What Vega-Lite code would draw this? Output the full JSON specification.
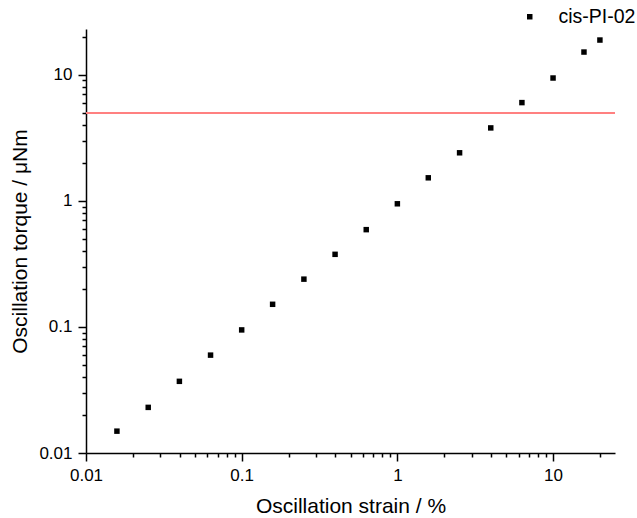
{
  "$schema": "https://vega.github.io/schema/vega-lite/v6.json",
  "width": 529,
  "height": 424,
  "autosize": {"type": "none"},
  "padding": {"left": 86, "top": 29, "right": 22, "bottom": 65},
  "background": "white",
  "config": {
    "view": {"stroke": null},
    "font": "Liberation Sans",
    "axis": {
      "domainColor": "black",
      "domainWidth": 1.5,
      "tickColor": "black",
      "tickWidth": 1.5,
      "labelColor": "black",
      "titleColor": "black",
      "labelFont": "Liberation Sans",
      "titleFont": "Liberation Sans",
      "labelFontSize": 17,
      "titleFontSize": 21,
      "titleFontWeight": "normal",
      "grid": false
    }
  },
  "data": {
    "values": [
      {"strain": 0.0158, "torque": 0.0149, "series": "cis-PI-02"},
      {"strain": 0.0251, "torque": 0.023, "series": "cis-PI-02"},
      {"strain": 0.0398, "torque": 0.037, "series": "cis-PI-02"},
      {"strain": 0.0631, "torque": 0.0597, "series": "cis-PI-02"},
      {"strain": 0.1, "torque": 0.0946, "series": "cis-PI-02"},
      {"strain": 0.158, "torque": 0.151, "series": "cis-PI-02"},
      {"strain": 0.251, "torque": 0.239, "series": "cis-PI-02"},
      {"strain": 0.398, "torque": 0.376, "series": "cis-PI-02"},
      {"strain": 0.631, "torque": 0.59, "series": "cis-PI-02"},
      {"strain": 1.0, "torque": 0.946, "series": "cis-PI-02"},
      {"strain": 1.58, "torque": 1.52, "series": "cis-PI-02"},
      {"strain": 2.51, "torque": 2.4, "series": "cis-PI-02"},
      {"strain": 3.98, "torque": 3.78, "series": "cis-PI-02"},
      {"strain": 6.31, "torque": 6.0, "series": "cis-PI-02"},
      {"strain": 10.0, "torque": 9.4, "series": "cis-PI-02"},
      {"strain": 15.8, "torque": 15.1, "series": "cis-PI-02"},
      {"strain": 20.0, "torque": 18.8, "series": "cis-PI-02"}
    ]
  },
  "layer": [
    {
      "mark": {"type": "rule", "color": "#FF8080", "strokeWidth": 1.2},
      "encoding": {"y": {"datum": 5, "type": "quantitative"}}
    },
    {
      "mark": {"type": "point", "shape": "square", "filled": true, "size": 30, "opacity": 1},
      "encoding": {
        "x": {
          "field": "strain",
          "type": "quantitative",
          "title": "Oscillation strain / %",
          "scale": {"type": "log", "domain": [0.01, 25], "nice": false, "zero": false},
          "axis": {
            "values": [0.01, 0.02, 0.03, 0.04, 0.05, 0.06, 0.07, 0.08, 0.09, 0.1, 0.2, 0.3, 0.4, 0.5, 0.6, 0.7, 0.8, 0.9, 1, 2, 3, 4, 5, 6, 7, 8, 9, 10, 20],
            "labelExpr": "abs(log(datum.value)/LN10 - round(log(datum.value)/LN10)) < 1e-6 ? format(datum.value, '~g') : ''",
            "tickSize": {"condition": {"test": "abs(log(datum.value)/LN10 - round(log(datum.value)/LN10)) < 1e-6", "value": 8}, "value": 4},
            "labelPadding": 6,
            "titlePadding": 12,
            "labelFlush": false,
            "labelOverlap": false
          }
        },
        "y": {
          "field": "torque",
          "type": "quantitative",
          "title": "Oscillation torque / μNm",
          "scale": {"type": "log", "domain": [0.01, 23], "nice": false, "zero": false},
          "axis": {
            "values": [0.01, 0.02, 0.03, 0.04, 0.05, 0.06, 0.07, 0.08, 0.09, 0.1, 0.2, 0.3, 0.4, 0.5, 0.6, 0.7, 0.8, 0.9, 1, 2, 3, 4, 5, 6, 7, 8, 9, 10, 20],
            "labelExpr": "abs(log(datum.value)/LN10 - round(log(datum.value)/LN10)) < 1e-6 ? format(datum.value, '~g') : ''",
            "tickSize": {"condition": {"test": "abs(log(datum.value)/LN10 - round(log(datum.value)/LN10)) < 1e-6", "value": 8}, "value": 4},
            "labelPadding": 6,
            "titlePadding": 8,
            "labelFlush": false,
            "labelOverlap": false
          }
        },
        "color": {
          "field": "series",
          "type": "nominal",
          "scale": {"range": ["#000000"]},
          "legend": {
            "title": null,
            "orient": "none",
            "legendX": 434,
            "legendY": -22,
            "symbolType": "square",
            "symbolSize": 30,
            "symbolFillColor": "black",
            "symbolStrokeWidth": 0,
            "labelFontSize": 19.5,
            "labelFont": "Liberation Sans",
            "labelColor": "black",
            "labelOffset": 19,
            "labelLimit": 200,
            "padding": 0
          }
        }
      }
    }
  ]
}
